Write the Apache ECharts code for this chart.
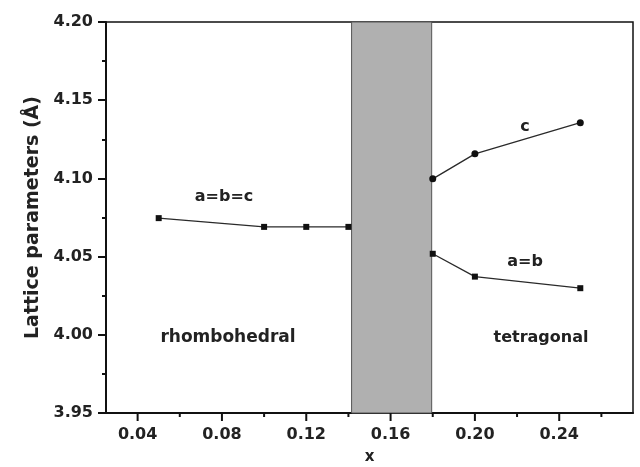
<!DOCTYPE html>
<html><head><meta charset="utf-8">
<script src="https://cdn.jsdelivr.net/npm/echarts@6/dist/echarts.min.js"></script>
<style>html,body{margin:0;padding:0;background:#fff}#c{width:640px;height:467px}</style>
</head><body><div id="c"></div>
<script>
// data
const xRhombo = [0.05, 0.10, 0.12, 0.14];
const abcRhombo = [4.0746, 4.069, 4.069, 4.069];
const xTetra = [0.18, 0.20, 0.25];
const cTetra = [4.0997, 4.1157, 4.1356];
const abTetra = [4.0518, 4.0372, 4.0298];
const bandRange = [0.1415, 0.1795];
const xTicks = [0.04, 0.08, 0.12, 0.16, 0.20, 0.24];
const yTicks = [3.95, 4.00, 4.05, 4.10, 4.15, 4.20];

const FONT = '"DejaVu Sans", Verdana, sans-serif';
const pair = (xs, ys) => xs.map((x, i) => [x, ys[i]]);
const lineStyle = {color: '#2a2a2a', width: 1.3};

const chart = echarts.init(document.getElementById('c'), null, {renderer: 'canvas'});
chart.setOption({
  animation: false,
  backgroundColor: '#fff',
  grid: {left: 106, right: 7, top: 22, bottom: 54, containLabel: false, outerBoundsMode: 'none',
    show: true, borderColor: '#111', borderWidth: 1.5, backgroundColor: 'transparent'},
  xAxis: {
    type: 'value', min: 0.025, max: 0.275, interval: 0.02,
    name: 'x', nameLocation: 'middle', nameGap: 37,
    nameTextStyle: {fontFamily: FONT, fontWeight: 'bold', fontSize: 15, color: '#222'},
    axisLine: {show: true, onZero: false, lineStyle: {color: '#111', width: 2}},
    axisTick: {show: false},
    minorTick: {show: false},
    splitLine: {show: false},
    axisLabel: {show: false}
  },
  yAxis: {
    type: 'value', min: 3.95, max: 4.20, interval: 0.05,
    name: 'Lattice parameters (Å)', nameLocation: 'middle', nameGap: 55,
    nameTextStyle: {fontFamily: FONT, fontWeight: 'bold', fontSize: 19, color: '#222'},
    axisLine: {show: true, lineStyle: {color: '#111', width: 2}},
    axisTick: {show: true, inside: false, length: 8, lineStyle: {color: '#111', width: 2}},
    minorTick: {show: true, splitNumber: 2, length: 4, lineStyle: {color: '#111', width: 2}},
    splitLine: {show: false},
    axisLabel: {margin: 13, fontFamily: FONT, fontWeight: 'bold', fontSize: 16, color: '#222',
      formatter: v => v.toFixed(2)}
  },
  series: [
    {
      type: 'line', name: 'band', data: [], silent: true,
      markArea: {silent: true, itemStyle: {color: '#b0b0b0', borderColor: '#555', borderWidth: 1},
        data: [[{xAxis: bandRange[0], yAxis: 3.95}, {xAxis: bandRange[1], yAxis: 4.20}]]}
    },
    {
      type: 'line', name: 'a=b=c', data: pair(xRhombo, abcRhombo), symbol: 'rect', symbolSize: 6,
      itemStyle: {color: '#111'}, lineStyle: lineStyle, z: 5
    },
    {
      type: 'line', name: 'c', data: pair(xTetra, cTetra), symbol: 'circle', symbolSize: 7,
      itemStyle: {color: '#111'}, lineStyle: lineStyle, z: 5
    },
    {
      type: 'line', name: 'a=b', data: pair(xTetra, abTetra), symbol: 'rect', symbolSize: 6,
      itemStyle: {color: '#111'}, lineStyle: lineStyle, z: 5
    }
  ]
});

// x-axis ticks: majors at xTicks (with labels), minors midway between
const gridBottom = chart.convertToPixel({xAxisIndex: 0, yAxisIndex: 0}, [0.025, 3.95])[1];
const els = [];
xTicks.forEach(t => {
  const px = chart.convertToPixel({xAxisIndex: 0, yAxisIndex: 0}, [t, 3.95])[0];
  els.push({type: 'line', shape: {x1: px, y1: gridBottom, x2: px, y2: gridBottom + 8}, style: {stroke: '#111', lineWidth: 2}, z: 10});
  els.push({type: 'text', x: px, y: gridBottom + 14, style: {text: t.toFixed(2), fontFamily: FONT, fontWeight: 'bold', fontSize: 16, fill: '#222', align: 'center', verticalAlign: 'top'}, z: 10});
  const m = t + 0.02;
  if (m < 0.275) {
    const pm = chart.convertToPixel({xAxisIndex: 0, yAxisIndex: 0}, [m, 3.95])[0];
    els.push({type: 'line', shape: {x1: pm, y1: gridBottom, x2: pm, y2: gridBottom + 4}, style: {stroke: '#111', lineWidth: 2}, z: 10});
  }
});
const txt = (s, x, y, fs) => ({type: 'text', x, y, style: {text: s, fontFamily: FONT, fontWeight: 'bold', fontSize: fs || 16, fill: '#222', align: 'center', verticalAlign: 'middle'}, z: 10});
els.push(txt('a=b=c', 224, 197));
els.push(txt('rhombohedral', 228, 338, 17));
els.push(txt('tetragonal', 541, 338));
els.push(txt('c', 525, 127));
els.push(txt('a=b', 525, 262));
chart.setOption({graphic: {elements: els}});
</script>
</body></html>
